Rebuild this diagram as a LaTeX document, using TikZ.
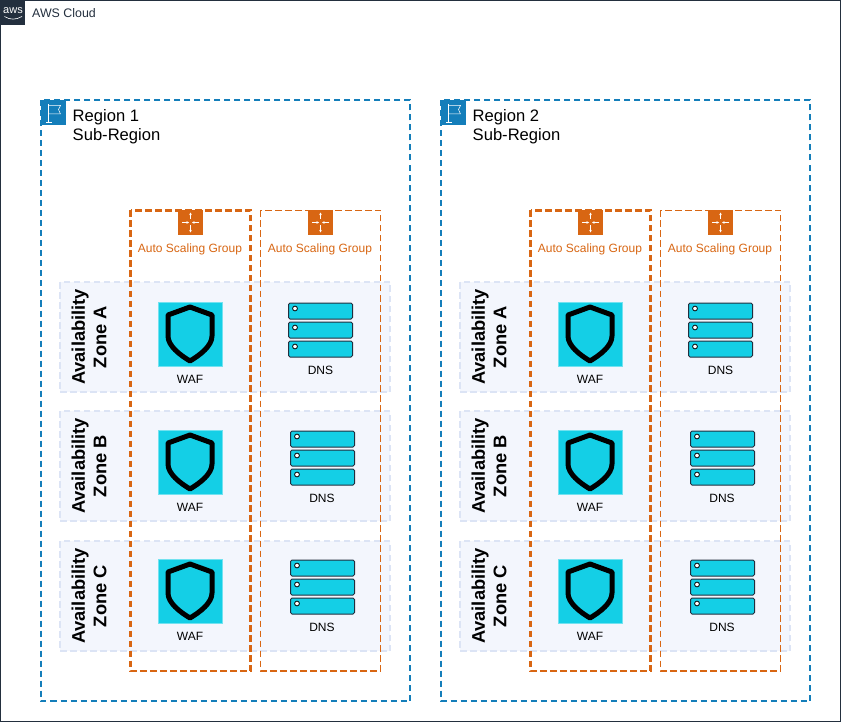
\documentclass[tikz,border=0pt]{standalone}
\usepackage{fontspec}
\setmainfont{Liberation Sans}
\usetikzlibrary{arrows.meta}
\definecolor{awsdark}{HTML}{232F3E}
\definecolor{regionblue}{HTML}{147EBA}
\definecolor{asgorange}{HTML}{D86613}
\definecolor{zonefill}{HTML}{F3F6FD}
\definecolor{zoneline}{HTML}{DCE4F5}
\definecolor{cyanfill}{HTML}{14CFE6}
\tikzset{
  x=1pt,y=-1pt,
  regionbox/.style={draw=regionblue,line width=2pt,dash pattern=on 6pt off 4pt},
  asgthick/.style={draw=asgorange,line width=2.2pt,dash pattern=on 6.5pt off 3.5pt},
  asgthin/.style={draw=asgorange,line width=1.7pt,dash pattern=on 6.5pt off 3.5pt},
  zonebox/.style={draw=zoneline,fill=zonefill,line width=1.4pt,dash pattern=on 6.5pt off 3.5pt},
  zonetxt/.style={rotate=90,align=center,font=\fontsize{18.3}{21.5}\selectfont\bfseries,text=black},
  regiontxt/.style={anchor=west,align=left,font=\fontsize{16.6}{19}\selectfont,text=black},
  asgtxt/.style={font=\fontsize{12}{14}\selectfont,text=asgorange},
  smalltxt/.style={font=\fontsize{12}{14}\selectfont,text=black},
  server/.style={draw=awsdark,fill=cyanfill,line width=1pt,rounded corners=1.5pt},
  led/.style={draw=black,fill=white,line width=0.8pt},
  shieldline/.style={draw=black,line width=5pt,line join=round},
  arrowline/.style={draw=white,line width=0.6pt,-{Stealth[length=2.5pt,width=2.5pt]}},
}
\newcommand{\wafIcon}[2]{%
  \begin{scope}[shift={(#1,#2)}]
    \fill[cyanfill] (-32,-32) rectangle (32,32);
    \draw[draw=cyanfill!60!white,line width=0.7pt] (-32,-32) rectangle (32,32);
    \draw[shieldline] (0,-27) -- (22,-19) -- (22,2) .. controls (22,12) and (10,21) .. (0,27)
       .. controls (-10,21) and (-22,12) .. (-22,2) -- (-22,-19) -- cycle;
  \end{scope}}
\newcommand{\dnsIcon}[2]{%
  \begin{scope}[shift={(#1,#2)}]
    \foreach \dy in {0,19,38}{
      \draw[server] (0,\dy) rectangle (64,16+\dy);
      \draw[led] (6.5,5.5+\dy) circle (2.4);
    }
  \end{scope}}
\newcommand{\asgIcon}[2]{%
  \begin{scope}[shift={(#1,#2)}]
    \fill[asgorange] (-12.5,-12.5) rectangle (12.5,12.5);
    \draw[arrowline] (0,-3) -- (0,-10);
    \draw[arrowline] (0,3) -- (0,10);
    \draw[arrowline] (-8.5,0) -- (-1.5,0);
    \draw[arrowline] (8.5,0) -- (1.5,0);
  \end{scope}}
\newcommand{\flagIcon}[2]{%
  \begin{scope}[shift={(#1,#2)}]
    \fill[regionblue] (0,0) rectangle (25,25);
    \draw[white,line width=0.8pt] (7.5,4.5) -- (7.5,22) (5,22) -- (10.5,22);
    \draw[white,line width=0.5pt] (7.5,5.5) -- (19.5,5.5) -- (17.5,9.5) -- (19.5,14) -- (7.5,14);
  \end{scope}}
\begin{document}
\begin{tikzpicture}
\useasboundingbox (0,0) rectangle (841,722);
\fill[white] (0,0) rectangle (841,722);
\draw[draw=awsdark,line width=1.2pt] (0.5,0.5) rectangle (840.5,721.5);
\fill[awsdark] (0,0) rectangle (25,25);
\node[font=\fontsize{11}{11}\selectfont,text=white,inner sep=0pt] (awslogo) at (13,11) {aws};
\draw[white,line width=0.6pt] (4.5,16.5) .. controls (10,20) and (16,20) .. (22,16.5);
\node[anchor=west,font=\fontsize{12.4}{14}\selectfont,text=awsdark,inner sep=0pt] (cloudlabel) at (32,13.5) {AWS Cloud};
\foreach \ox/\rg in {0/1,400/2}{
\begin{scope}[xshift=\ox]
  \draw[regionbox] (41,100.5) rectangle (410,701);
  \flagIcon{41}{100}
  \node[regiontxt,inner sep=0pt] (region\rg) at (72.5,126.5) {Region \rg\\Sub-Region};
  \foreach \zy/\zn/\zz in {282/A/a,411/B/b,541/C/c}{
    \draw[zonebox] (60,\zy) rectangle (390,\zy+110);
    \node[zonetxt,inner sep=0pt] (zone\rg\zz) at (89,\zy+55) {Availability\\Zone \zn};
  }
  \draw[asgthick] (130.5,210.5) rectangle (250.5,671);
  \draw[asgthin] (260.5,210.5) rectangle (380.5,671);
  \asgIcon{190.5}{222.5}
  \asgIcon{320.5}{222.5}
  \node[asgtxt] (asg\rg a) at (190,249) {Auto Scaling Group};
  \node[asgtxt] (asg\rg b) at (320,249) {Auto Scaling Group};
  \wafIcon{190}{334}
  \wafIcon{190}{462}
  \wafIcon{190}{591}
  \node[smalltxt] (waf\rg a) at (190,379.5) {WAF};
  \node[smalltxt] (waf\rg b) at (190,507) {WAF};
  \node[smalltxt] (waf\rg c) at (190,636.5) {WAF};
  \dnsIcon{288.5}{303}
  \dnsIcon{290.5}{431}
  \dnsIcon{290.5}{560}
  \node[smalltxt] (dns\rg a) at (320.5,370) {DNS};
  \node[smalltxt] (dns\rg b) at (322,498) {DNS};
  \node[smalltxt] (dns\rg c) at (322,627.5) {DNS};
\end{scope}
}
\end{tikzpicture}
\end{document}
